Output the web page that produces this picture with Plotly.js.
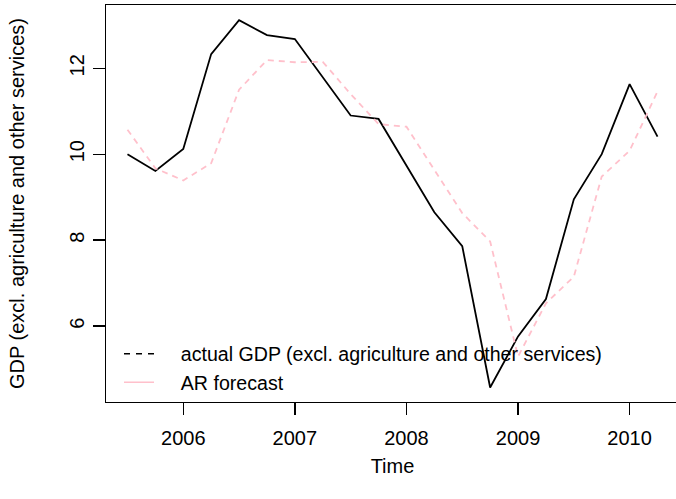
<!DOCTYPE html>
<html>
<head>
<meta charset="utf-8">
<script src="https://cdn.plot.ly/plotly-3.0.1.min.js"></script>
<style>
html, body { margin: 0; padding: 0; overflow: hidden; background: #fff; }
#chart { width: 700px; height: 499px; }
</style>
</head>
<body>
<div id="chart"></div>
<script>
// Quarterly time index (decimal years)
const quarters = [2005.5, 2005.75, 2006.0, 2006.25, 2006.5, 2006.75, 2007.0, 2007.25,
                  2007.5, 2007.75, 2008.0, 2008.25, 2008.5, 2008.75, 2009.0, 2009.25,
                  2009.5, 2009.75, 2010.0, 2010.25];
// Actual GDP (excl. agriculture and other services)
const actualGDP = [10.00, 9.61, 10.12, 12.33, 13.12, 12.77, 12.68, 11.79,
                   10.90, 10.82, 9.75, 8.65, 7.86, 4.57, 5.76, 6.63,
                   8.95, 10.00, 11.63, 10.41];
// AR forecast
const arForecast = [10.57, 9.67, 9.39, 9.79, 11.50, 12.19, 12.14, 12.15,
                    11.40, 10.70, 10.64, 9.62, 8.63, 7.97, 5.29, 6.53,
                    7.15, 9.48, 10.08, 11.46];
const xTickVals = [2006, 2007, 2008, 2009, 2010];
const xTickText = ['2006', '2007', '2008', '2009', '2010'];
const yTickVals = [6, 8, 10, 12];
const yTickText = ['6', '8', '10', '12'];
const legendLabels = ['actual GDP (excl. agriculture and other services)', 'AR forecast'];

const FONT = 'Liberation Sans, Arial, Helvetica, sans-serif';
const PAD = '\u00a0\u00a0\u00a0\u00a0';

const traces = [
  { x: quarters, y: actualGDP, type: 'scatter', mode: 'lines',
    line: { color: '#000000', width: 1.8 }, showlegend: false, hoverinfo: 'skip' },
  { x: quarters, y: arForecast, type: 'scatter', mode: 'lines',
    line: { color: '#ffc0cb', width: 1.8, dash: '6px,5px' }, showlegend: false, hoverinfo: 'skip' },
  // legend entries (as in the original legend: black dashed, pink solid)
  { x: [null], y: [null], type: 'scatter', mode: 'lines', name: PAD + legendLabels[0],
    line: { color: '#000000', width: 1.3, dash: '6px,6px' } },
  { x: [null], y: [null], type: 'scatter', mode: 'lines', name: PAD + legendLabels[1],
    line: { color: '#ffc0cb', width: 1.3 } }
];

const layout = {
  width: 700, height: 499,
  margin: { l: 106, r: 21, t: 5, b: 96.7, pad: 0 },
  paper_bgcolor: '#ffffff', plot_bgcolor: '#ffffff',
  font: { family: FONT, size: 20, color: '#000000' },
  showlegend: true,
  legend: {
    x: 0.0227, y: 0.17, xanchor: 'left', yanchor: 'top',
    bgcolor: 'rgba(0,0,0,0)', borderwidth: 0,
    font: { family: FONT, size: 19.6, color: '#000000' },
    itemwidth: 30, tracegroupgap: 0
  },
  xaxis: {
    range: [2005.3075, 2010.4425], autorange: false,
    tickmode: 'array', tickvals: xTickVals, ticktext: xTickText,
    ticks: 'outside', ticklen: 12, tickwidth: 1.3, tickcolor: '#000',
    showline: true, linecolor: '#000', linewidth: 1.3, mirror: true,
    showgrid: false, zeroline: false,
    ticklabelstandoff: 6,
    tickfont: { family: FONT, size: 20 },
    title: { text: 'Time', font: { family: FONT, size: 20 }, standoff: 10 }
  },
  yaxis: {
    range: [4.233, 13.472], autorange: false,
    tickmode: 'array', tickvals: yTickVals, ticktext: yTickText,
    tickangle: -90,
    ticks: 'outside', ticklen: 12, tickwidth: 1.3, tickcolor: '#000',
    showline: true, linecolor: '#000', linewidth: 1.3, mirror: true,
    showgrid: false, zeroline: false,
    ticklabelstandoff: 1,
    tickfont: { family: FONT, size: 20 },
    title: { text: 'GDP (excl. agriculture and other services)', font: { family: FONT, size: 20 }, standoff: 35 }
  }
};

Plotly.newPlot('chart', traces, layout, { staticPlot: true, displayModeBar: false });
</script>
</body>
</html>
